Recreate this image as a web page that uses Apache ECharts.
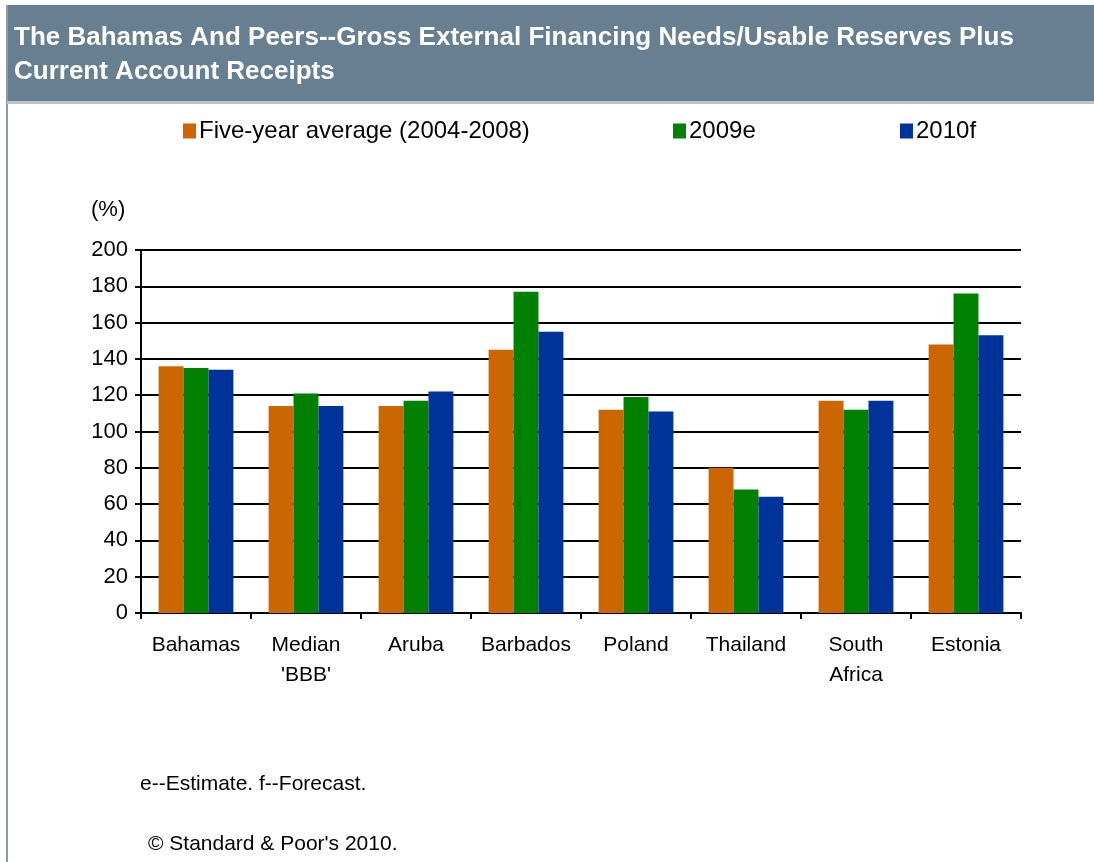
<!DOCTYPE html>
<html>
<head>
<meta charset="utf-8">
<script src="https://cdn.jsdelivr.net/npm/echarts@6/dist/echarts.min.js"></script>
<style>
  html, body { margin: 0; padding: 0; background: #ffffff; }
  #chart { width: 1094px; height: 862px; }
</style>
</head>
<body>
<div id="chart"></div>
<script>
// Countries / peer groups along the x axis
const categories = ['Bahamas', "Median\n'BBB'", 'Aruba', 'Barbados', 'Poland', 'Thailand', 'South\nAfrica', 'Estonia'];
// Gross external financing needs / usable reserves plus current account receipts (%)
const fiveYearAvg = [136, 114, 114, 145, 112, 80, 117, 148];
const est2009 = [135, 121, 117, 177, 119, 68, 112, 176];
const fcst2010 = [134, 114, 122, 155, 111, 64, 117, 153];
const seriesNames = ['Five-year average (2004-2008)', '2009e', '2010f'];
const yTicks = { min: 0, max: 200, interval: 20 };

const colors = ['#cc6600', '#008000', '#003399'];
const font = 'Liberation Sans, Arial, sans-serif';

const chart = echarts.init(document.getElementById('chart'), null, { renderer: 'canvas' });

const legendPos = [178, 668, 895];

chart.setOption({
  animation: false,
  backgroundColor: '#ffffff',
  color: colors,
  graphic: [
    { type: 'rect', shape: { x: 7, y: 5, width: 1087, height: 96 }, style: { fill: '#677f90' }, silent: true },
    { type: 'rect', shape: { x: 6, y: 5, width: 2, height: 857 }, style: { fill: '#8a9aa6' }, silent: true },
    { type: 'rect', shape: { x: 7, y: 101, width: 1087, height: 3 }, style: { fill: '#b9c4cc' }, silent: true },
    { type: 'text', left: 14, top: 21, style: { text: 'The Bahamas And Peers--Gross External Financing Needs/Usable Reserves Plus\nCurrent Account Receipts', fill: '#ffffff', font: 'bold 26px ' + font, lineHeight: 34 }, silent: true },
    { type: 'text', left: 91, top: 199, style: { text: '(%)', fill: '#000000', font: '22px ' + font }, silent: true },
    { type: 'text', left: 140, top: 774, style: { text: 'e--Estimate. f--Forecast.', fill: '#000000', font: '21px ' + font }, silent: true },
    { type: 'text', left: 148, top: 834, style: { text: '\u00a9 Standard & Poor\'s 2010.', fill: '#000000', font: '21px ' + font }, silent: true }
  ],
  legend: seriesNames.map((n, i) => ({
    data: [n],
    left: legendPos[i],
    top: 114,
    icon: 'rect',
    itemWidth: 13,
    itemHeight: 15,
    itemGap: 0,
    textStyle: { fontFamily: font, fontSize: 24, color: '#000000', padding: [0, 0, 0, -2] },
    selectedMode: false
  })),
  grid: { left: 141, right: 73, top: 250, bottom: 249, containLabel: false },
  xAxis: {
    type: 'category',
    data: categories,
    axisLine: { lineStyle: { color: '#000000', width: 2 } },
    axisTick: { show: true, length: 6, interval: 0, lineStyle: { color: '#000000', width: 2 } },
    axisLabel: { interval: 0, fontFamily: font, fontSize: 21, color: '#000000', margin: 27, lineHeight: 30, verticalAlign: 'top', padding: [-10, 0, 0, 0] }
  },
  yAxis: {
    type: 'value',
    min: yTicks.min,
    max: yTicks.max,
    interval: yTicks.interval,
    axisLine: { show: true, lineStyle: { color: '#000000', width: 2 } },
    axisTick: { show: true, length: 6, lineStyle: { color: '#000000', width: 2 } },
    axisLabel: { fontFamily: font, fontSize: 22, color: '#000000', margin: 13 },
    splitLine: { show: true, lineStyle: { color: '#000000', width: 2 } }
  },
  series: [fiveYearAvg, est2009, fcst2010].map((d, i) => ({
    name: seriesNames[i],
    type: 'bar',
    data: d,
    barGap: '0%',
    barCategoryGap: '32%',
    itemStyle: { color: colors[i] }
  }))
});
</script>
</body>
</html>
